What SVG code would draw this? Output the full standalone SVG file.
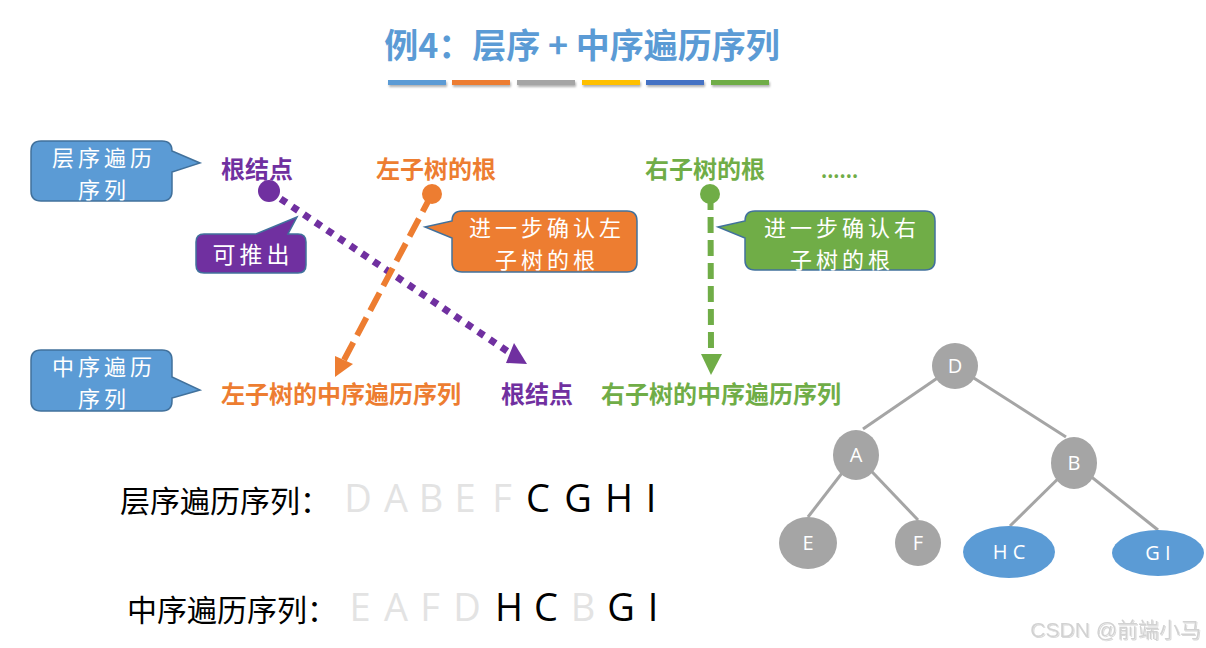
<svg xmlns="http://www.w3.org/2000/svg" width="1206" height="648" viewBox="0 0 1206 648">
<defs>
<style>
.title{font-family:"Noto Sans CJK SC","Noto Sans",sans-serif;font-size:34px;font-weight:bold;fill:#5B9BD5;}
.lbl{font-family:"Noto Sans CJK SC",sans-serif;font-size:24px;font-weight:bold;}
.call{font-family:"Noto Sans CJK SC",sans-serif;font-size:22px;letter-spacing:4px;fill:#FFFFFF;text-anchor:middle;}
.box{stroke:#41719C;stroke-width:1.5;}
.edge{stroke:#A5A5A5;stroke-width:3;fill:none;}
.node{fill:#A5A5A5;}
.hl{fill:#5B9BD5;}
.nt{font-family:"Open Sans",sans-serif;font-size:20px;fill:#FFFFFF;text-anchor:middle;}
.seq{font-family:"Open Sans",sans-serif;font-size:38px;text-anchor:middle;}
.dim{fill:#E3E3E3;}
.blk{fill:#000000;}
.big{font-family:"Noto Sans CJK SC",serif;font-size:30px;fill:#000000;}
</style>
<filter id="sh" x="-10%" y="-50%" width="120%" height="250%"><feDropShadow dx="1" dy="2" stdDeviation="1" flood-color="#000" flood-opacity="0.3"/></filter>
<filter id="sh2" x="-10%" y="-50%" width="120%" height="250%"><feDropShadow dx="1" dy="1" stdDeviation="0.6" flood-color="#000" flood-opacity="0.15"/></filter>
</defs>
<rect width="1206" height="648" fill="#FFFFFF"/>

<g id="title">
<text class="title" x="582" y="58" text-anchor="middle">例4：层序 + 中序遍历序列</text>
<g filter="url(#sh)">
<rect x="388" y="80" width="58" height="5" fill="#5B9BD5"/>
<rect x="452" y="80" width="58" height="5" fill="#ED7D31"/>
<rect x="517" y="80" width="58" height="5" fill="#A5A5A5"/>
<rect x="582" y="80" width="58" height="5" fill="#FFC000"/>
<rect x="646" y="80" width="58" height="5" fill="#4472C4"/>
<rect x="711" y="80" width="58" height="5" fill="#70AD47"/>
</g>
</g>

<g id="connectors">
<line x1="269" y1="191" x2="510" y2="353" stroke="#7030A0" stroke-width="7" stroke-dasharray="7,7"/>
<polygon points="514,343 506,363 527,364" fill="#7030A0"/>
<line x1="432" y1="194" x2="344" y2="360" stroke="#ED7D31" stroke-width="6" stroke-dasharray="20,8"/>
<polygon points="335,356 353,364 335,377" fill="#ED7D31"/>
<line x1="710.5" y1="194" x2="711" y2="354" stroke="#70AD47" stroke-width="6" stroke-dasharray="16,7"/>
<polygon points="701,354 722,354 711,375" fill="#70AD47"/>
</g>

<g id="root-top">
<text class="lbl" x="221" y="178" fill="#7030A0">根结点</text>
<circle cx="269" cy="191" r="11" fill="#7030A0"/>
</g>
<g id="left-root">
<text class="lbl" x="376" y="178" fill="#ED7D31">左子树的根</text>
<circle cx="432" cy="194" r="10" fill="#ED7D31"/>
</g>
<g id="right-root">
<text class="lbl" x="645" y="178" fill="#70AD47">右子树的根</text>
<circle cx="710" cy="194" r="10" fill="#70AD47"/>
</g>
<g id="dots">
<text class="lbl" x="821" y="178" fill="#70AD47" style="font-size:19px">......</text>
</g>

<g id="callout-level">
<path class="box" fill="#5B9BD5" d="M41,141 H162 Q172,141 172,151 L200,163 L172,172 V191 Q172,201 162,201 H41 Q31,201 31,191 V151 Q31,141 41,141 Z"/>
<text class="call" x="104" y="166">层序遍历</text>
<text class="call" x="104" y="198">序列</text>
</g>

<g id="callout-infer">
<path class="box" fill="#7030A0" d="M204,234 H256 L297,217 L288,234 H298 Q306,234 306,242 V265 Q306,273 298,273 H204 Q196,273 196,265 V242 Q196,234 204,234 Z"/>
<text class="call" x="253" y="263" style="font-size:23px">可推出</text>
</g>

<g id="callout-left">
<path class="box" fill="#ED7D31" d="M462,211 H627 Q637,211 637,221 V262 Q637,272 627,272 H462 Q452,272 452,262 V238 L425,227 L452,221 Q452,211 462,211 Z"/>
<text class="call" x="547" y="236">进一步确认左</text>
<text class="call" x="547" y="268">子树的根</text>
</g>

<g id="callout-right">
<path class="box" fill="#70AD47" d="M755,211 H925 Q935,211 935,221 V260 Q935,270 925,270 H755 Q745,270 745,260 V238 L718,227 L745,221 Q745,211 755,211 Z"/>
<text class="call" x="842" y="236">进一步确认右</text>
<text class="call" x="842" y="268">子树的根</text>
</g>

<g id="callout-inorder">
<path class="box" fill="#5B9BD5" d="M41,350 H162 Q172,350 172,360 V377 L200,390 L172,398 V401 Q172,411 162,411 H41 Q31,411 31,401 V360 Q31,350 41,350 Z"/>
<text class="call" x="104" y="375">中序遍历</text>
<text class="call" x="104" y="407">序列</text>
</g>

<g id="inorder-left">
<text class="lbl" x="221" y="403" fill="#ED7D31">左子树的中序遍历序列</text>
</g>
<g id="inorder-root">
<text class="lbl" x="501" y="403" fill="#7030A0">根结点</text>
</g>
<g id="inorder-right">
<text class="lbl" x="601" y="403" fill="#70AD47">右子树的中序遍历序列</text>
</g>

<g id="tree-edges">
<line class="edge" x1="955" y1="366" x2="863" y2="429"/>
<line class="edge" x1="955" y1="366" x2="1066" y2="437"/>
<line class="edge" x1="856" y1="455" x2="808" y2="517"/>
<line class="edge" x1="856" y1="455" x2="918" y2="520"/>
<line class="edge" x1="1074" y1="463" x2="1010" y2="526"/>
<line class="edge" x1="1074" y1="463" x2="1158" y2="530"/>
</g>
<g id="node-D"><ellipse class="node" cx="955" cy="366" rx="23" ry="23"/><text class="nt" x="955" y="373">D</text></g>
<g id="node-A"><ellipse class="node" cx="856" cy="455" rx="23" ry="25"/><text class="nt" x="856" y="462">A</text></g>
<g id="node-B"><ellipse class="node" cx="1074" cy="463" rx="23" ry="26"/><text class="nt" x="1074" y="470">B</text></g>
<g id="node-E"><ellipse class="node" cx="808" cy="543" rx="29" ry="26"/><text class="nt" x="808" y="550">E</text></g>
<g id="node-F"><ellipse class="node" cx="918" cy="543" rx="23" ry="23"/><text class="nt" x="918" y="550">F</text></g>
<g id="node-HC"><ellipse class="hl" cx="1009" cy="552" rx="46" ry="26"/><text class="nt" x="1009" y="559">H C</text></g>
<g id="node-GI"><ellipse class="hl" cx="1158" cy="553" rx="46" ry="23"/><text class="nt" x="1158" y="560">G I</text></g>

<g id="level-seq">
<text class="big" x="120" y="512">层序遍历序列：</text>
<text class="seq" y="512"><tspan class="dim" x="358">D</tspan><tspan class="dim" x="396">A</tspan><tspan class="dim" x="431">B</tspan><tspan class="dim" x="465">E</tspan><tspan class="dim" x="502">F</tspan><tspan class="blk" x="538">C</tspan><tspan class="blk" x="578">G</tspan><tspan class="blk" x="619">H</tspan><tspan class="blk" x="651">I</tspan></text>
</g>
<g id="in-seq">
<text class="big" x="127" y="621">中序遍历序列：</text>
<text class="seq" y="621"><tspan class="dim" x="360">E</tspan><tspan class="dim" x="396">A</tspan><tspan class="dim" x="430">F</tspan><tspan class="dim" x="467">D</tspan><tspan class="blk" x="509">H</tspan><tspan class="blk" x="546">C</tspan><tspan class="dim" x="583">B</tspan><tspan class="blk" x="621">G</tspan><tspan class="blk" x="653">I</tspan></text>
</g>

<g id="watermark">
<text x="1201" y="637" text-anchor="end" font-family="'Liberation Sans','Noto Sans CJK SC',sans-serif" font-size="21" fill="#D2D2D2" filter="url(#sh2)">CSDN @前端小马</text>
</g>
</svg>
